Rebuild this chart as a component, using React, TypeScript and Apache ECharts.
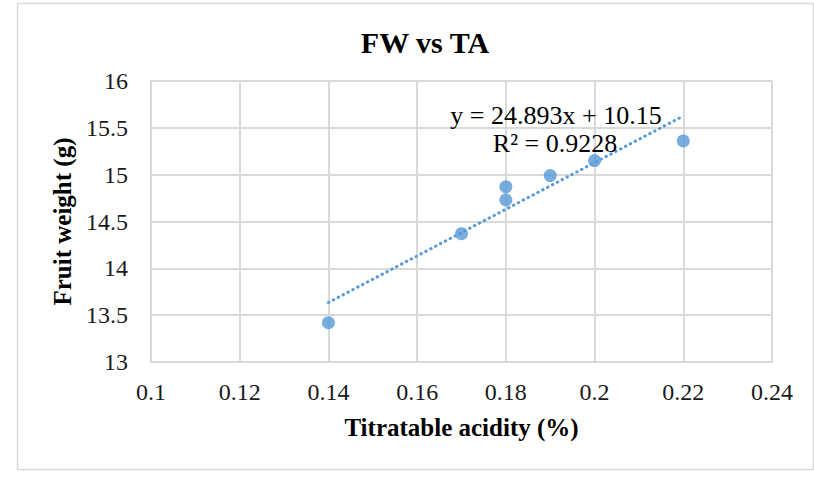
import React, { useEffect, useRef } from "react";
import * as echarts from "echarts";

const titleText = "FW vs TA";
const xAxisName = "Titratable acidity (%)";
const yAxisName = "Fruit weight (g)";
const taValues = [0.14, 0.17, 0.18, 0.18, 0.19, 0.2, 0.22];
const fwValues = [13.42, 14.37, 14.73, 14.87, 14.99, 15.15, 15.36];
const trendSlope = 24.893;
const trendIntercept = 10.15;
const equationText = "y = 24.893x + 10.15";
const r2Text = "R² = 0.9228";

const FONT = "'Liberation Serif', 'Times New Roman', serif";
const BLUE = "#5B9BD5";
const GRID = "#d9d9d9";

export default function App() {
  const ref = useRef<HTMLDivElement>(null);
  useEffect(() => {
    if (!ref.current) return;
    const chart = echarts.init(ref.current, undefined, { renderer: "svg" });
    const points = taValues.map((x, i) => [x, fwValues[i]]);
    const xMin = Math.min(...taValues);
    const xMax = Math.max(...taValues);
    const trend = [
      [xMin, trendSlope * xMin + trendIntercept],
      [xMax, trendSlope * xMax + trendIntercept],
    ];
    chart.setOption({
      animation: false,
      backgroundColor: "#ffffff",
      title: {
        text: titleText,
        left: 420,
        top: 22,
        textAlign: "center",
        textStyle: { fontFamily: FONT, fontWeight: "bold", fontSize: 30, color: "#000" },
      },
      grid: { left: 151, right: 42, top: 81, bottom: 115, containLabel: false },
      xAxis: {
        type: "value",
        min: 0.1,
        max: 0.24,
        interval: 0.02,
        name: xAxisName,
        nameLocation: "middle",
        nameGap: 53,
        nameTextStyle: { fontFamily: FONT, fontWeight: "bold", fontSize: 25, color: "#000" },
        axisLine: { show: true, lineStyle: { color: GRID, width: 2 } },
        axisTick: { show: false },
        axisLabel: {
          fontFamily: FONT,
          fontSize: 24,
          color: "#1a1a1a",
          margin: 18,
          formatter: (v: number) => String(+v.toFixed(2)),
        },
        splitLine: { show: true, lineStyle: { color: GRID, width: 2 } },
      },
      yAxis: {
        type: "value",
        min: 13,
        max: 16,
        interval: 0.5,
        name: yAxisName,
        nameLocation: "middle",
        nameGap: 75,
        nameTextStyle: { fontFamily: FONT, fontWeight: "bold", fontSize: 25, color: "#000" },
        axisLine: { show: true, lineStyle: { color: GRID, width: 2 } },
        axisTick: { show: false },
        axisLabel: {
          fontFamily: FONT,
          fontSize: 24,
          color: "#1a1a1a",
          margin: 23,
          formatter: (v: number) => String(+v.toFixed(1)),
        },
        splitLine: { show: true, lineStyle: { color: GRID, width: 2 } },
      },
      graphic: [
        {
          type: "rect",
          shape: { x: 17.5, y: 3.5, width: 796, height: 466 },
          style: { fill: "none", stroke: GRID, lineWidth: 1.5 },
          z: 0,
          silent: true,
        },
        {
          type: "text",
          x: 556,
          y: 115,
          style: {
            text: equationText,
            font: `26px ${FONT}`,
            fill: "#000",
            align: "center",
            verticalAlign: "middle",
          },
          z: 100,
        },
        {
          type: "text",
          x: 555,
          y: 143,
          style: {
            text: r2Text,
            font: `26px ${FONT}`,
            fill: "#000",
            align: "center",
            verticalAlign: "middle",
          },
          z: 100,
        },
      ],
      series: [
        {
          type: "line",
          data: trend,
          symbol: "none",
          lineStyle: { color: BLUE, width: 3, type: [0.5, 5], cap: "round" },
          z: 2,
        },
        {
          type: "scatter",
          data: points,
          symbol: "circle",
          symbolSize: 13,
          itemStyle: { color: "#5699d8" },
          z: 3,
        },
      ],
    });
    return () => chart.dispose();
  }, []);
  return (
    <div
      ref={ref}
      style={{ position: "absolute", left: 0, top: 0, width: 814, height: 477 }}
    />
  );
}
